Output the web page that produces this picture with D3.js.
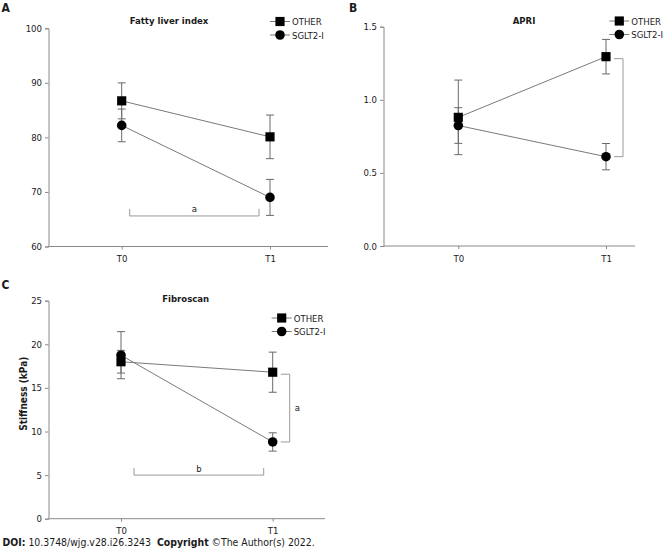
<!DOCTYPE html>
<html><head><meta charset="utf-8">
<script src="https://cdn.jsdelivr.net/npm/d3@7"></script>
<style>
body{margin:0;background:#fff}
svg{display:block}
text{font-family:"DejaVu Sans Condensed","DejaVu Sans",sans-serif;fill:#1a1a1a}
</style>
</head><body><svg id="c" width="669" height="551"></svg>
<script>
// ---------- data ----------
const timepoints = ["T0", "T1"];
const seriesNames = ["OTHER", "SGLT2-I"];

// A: Fatty liver index
const fliOther = [86.7, 80.1];
const fliOtherErr = [3.3, 4.0];
const fliSglt = [82.2, 69.0];
const fliSgltErr = [3.0, 3.3];
const fliTicks = [60, 70, 80, 90, 100];
const fliSig = [{type: "h", value: 65.6, label: "a"}];

// B: APRI
const apriOther = [0.88, 1.295];
const apriOtherErr = [0.255, 0.118];
const apriSglt = [0.824, 0.611];
const apriSgltErr = [0.122, 0.09];
const apriTicks = [0, 0.5, 1.0, 1.5];
const apriSig = [{type: "v", label: ""}];

// C: Fibroscan
const fibOther = [18.0, 16.8];
const fibOtherErr = [1.3, 2.3];
const fibSglt = [18.75, 8.8];
const fibSgltErr = [2.7, 1.05];
const fibTicks = [0, 5, 10, 15, 20, 25];
const fibSig = [{type: "v", label: "a"}, {type: "h", value: 5.0, label: "b"}];

// ---------- drawing ----------
const svg = d3.select("#c");
const AXIS = "#8a8a8a", LINE = "#7a7a7a", ERR = "#6a6a6a", BRK = "#9a9a9a";

const panels = [
  {letter: "A", lx: 1.5, ly: 12, title: "Fatty liver index", tx: 169, ty: 24,
   x0: 48.5, x1: 328, xr: [121.7, 270], yr: [246.5, 28.3], domain: [60, 100],
   ticks: fliTicks, fmt: d3.format("d"), legX: 280, legY: 21.5,
   other: fliOther, otherErr: fliOtherErr, sglt: fliSglt, sgltErr: fliSgltErr,
   sig: fliSig, hInset: [8, 11]},
  {letter: "B", lx: 349, ly: 12, title: "APRI", tx: 524, ty: 24,
   x0: 383.5, x1: 635, xr: [458.3, 606], yr: [246, 26.7], domain: [0, 1.5],
   ticks: apriTicks, fmt: d3.format(".1f"), legX: 619.3, legY: 21,
   other: apriOther, otherErr: apriOtherErr, sglt: apriSglt, sgltErr: apriSgltErr,
   sig: apriSig},
  {letter: "C", lx: 1.5, ly: 288.5, title: "Fibroscan", tx: 185.7, ty: 301.5,
   x0: 48.5, x1: 325, xr: [121, 272.7], yr: [518.7, 300.7], domain: [0, 25],
   ticks: fibTicks, fmt: d3.format("d"), legX: 281.7, legY: 318,
   other: fibOther, otherErr: fibOtherErr, sglt: fibSglt, sgltErr: fibSgltErr,
   sig: fibSig, hInset: [13, 9], ylabel: "Stiffness (kPa)"}
];

panels.forEach(p => {
  const g = svg.append("g");
  const x = d3.scalePoint().domain(timepoints).range(p.xr);
  const y = d3.scaleLinear().domain(p.domain).range(p.yr);

  // panel letter
  g.append("text").attr("x", p.lx).attr("y", p.ly)
    .style("font-size", "12px").style("font-weight", "bold").text(p.letter);
  // title
  g.append("text").attr("x", p.tx).attr("y", p.ty).attr("text-anchor", "middle")
    .style("font-size", "9.5px").style("font-weight", "bold").text(p.title);

  // y axis
  const ya = g.append("g").attr("transform", `translate(${p.x0},0)`)
    .call(d3.axisLeft(y).tickValues(p.ticks).tickFormat(p.fmt).tickSize(3.5).tickPadding(3));
  ya.select(".domain").attr("stroke", AXIS);
  ya.selectAll(".tick line").attr("stroke", AXIS);
  ya.selectAll(".tick text").style("font-size", "9.5px")
    .style("font-family", '"DejaVu Sans Condensed","DejaVu Sans",sans-serif').attr("fill", "#1a1a1a");

  // x axis
  const xa = g.append("g").attr("transform", `translate(0,${p.yr[0]})`)
    .call(d3.axisBottom(x).tickSize(3).tickPadding(6));
  xa.select(".domain").remove();
  xa.append("line").attr("x1", p.x0).attr("x2", p.x1).attr("stroke", AXIS);
  xa.selectAll(".tick line").attr("stroke", AXIS);
  xa.selectAll(".tick text").style("font-size", "9.5px")
    .style("font-family", '"DejaVu Sans Condensed","DejaVu Sans",sans-serif').attr("fill", "#1a1a1a");

  if (p.ylabel) {
    g.append("text").attr("transform", `translate(27,${(p.yr[0] + p.yr[1]) / 2 - 16}) rotate(-90)`)
      .attr("text-anchor", "middle").style("font-size", "10px").style("font-weight", "bold")
      .text(p.ylabel);
  }

  const series = [
    {name: seriesNames[0], vals: p.other, err: p.otherErr, shape: "square"},
    {name: seriesNames[1], vals: p.sglt, err: p.sgltErr, shape: "circle"}
  ];

  // connecting lines
  const line = d3.line().x((d, i) => x(timepoints[i])).y(d => y(d));
  series.forEach(s => {
    g.append("path").attr("d", line(s.vals)).attr("fill", "none")
      .attr("stroke", LINE).attr("stroke-width", 1);
  });

  // error bars
  series.forEach(s => {
    s.vals.forEach((v, i) => {
      const cx = x(timepoints[i]);
      const lo = y(v - s.err[i]), hi = y(v + s.err[i]);
      g.append("line").attr("x1", cx).attr("x2", cx).attr("y1", lo).attr("y2", hi)
        .attr("stroke", ERR);
      [lo, hi].forEach(yy => g.append("line").attr("x1", cx - 4).attr("x2", cx + 4)
        .attr("y1", yy).attr("y2", yy).attr("stroke", ERR));
    });
  });

  // markers
  const sym = {square: d3.symbolSquare, circle: d3.symbolCircle};
  const size = {square: 84, circle: 72};
  series.forEach(s => {
    s.vals.forEach((v, i) => {
      g.append("path").attr("d", d3.symbol(sym[s.shape], size[s.shape])())
        .attr("transform", `translate(${x(timepoints[i])},${y(v)})`).attr("fill", "#000");
    });
  });

  // significance brackets
  p.sig.forEach(b => {
    if (b.type === "h") {
      const yy = y(b.value);
      const xa0 = x(timepoints[0]) + p.hInset[0], xa1 = x(timepoints[1]) - p.hInset[1];
      g.append("path").attr("d", `M${xa0},${yy - 7}V${yy}H${xa1}V${yy - 7}`)
        .attr("fill", "none").attr("stroke", BRK);
      g.append("text").attr("x", (xa0 + xa1) / 2).attr("y", yy - 3.5).attr("text-anchor", "middle")
        .style("font-size", "9.5px").text(b.label);
    } else {
      const cx = x(timepoints[1]);
      const y0 = y(p.other[1]), y1 = y(p.sglt[1]);
      g.append("path").attr("d", `M${cx + 8},${y0 + 2}H${cx + 17}V${y1}H${cx + 8}`)
        .attr("fill", "none").attr("stroke", BRK);
      if (b.label) g.append("text").attr("x", cx + 22).attr("y", (y0 + y1) / 2 + 3.5)
        .style("font-size", "9.5px").text(b.label);
    }
  });

  // legend
  series.forEach((s, k) => {
    const ly = p.legY + k * 13.5;
    g.append("line").attr("x1", p.legX - 10).attr("x2", p.legX + 10).attr("y1", ly).attr("y2", ly)
      .attr("stroke", LINE);
    g.append("path").attr("d", d3.symbol(sym[s.shape], size[s.shape])())
      .attr("transform", `translate(${p.legX},${ly})`).attr("fill", "#000");
    g.append("text").attr("x", p.legX + 12).attr("y", ly + 3.5)
      .style("font-size", "9.5px").text(s.name);
  });
});

// footer
const foot = svg.append("text").attr("x", 2.5).attr("y", 546).style("font-size", "10.4px");
foot.append("tspan").style("font-weight", "bold").text("DOI:");
foot.append("tspan").text(" 10.3748/wjg.v28.i26.3243\u00a0\u00a0");
foot.append("tspan").style("font-weight", "bold").text("Copyright");
foot.append("tspan").text(" \u00a9The Author(s) 2022.");
</script>
</body></html>
